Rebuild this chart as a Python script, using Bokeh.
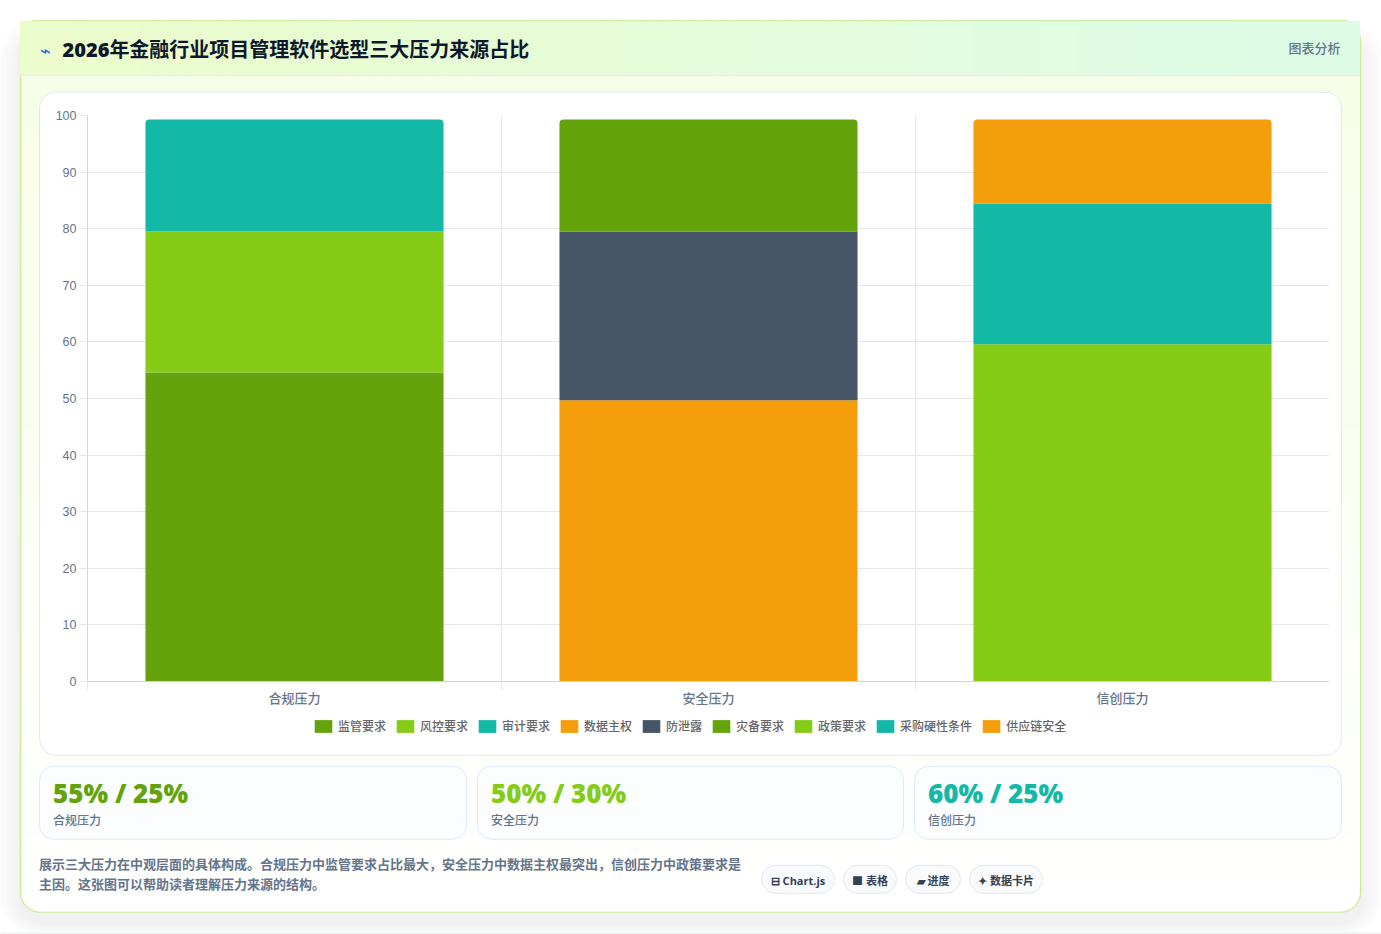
from bokeh.embed import file_html
from bokeh.resources import INLINE
from bokeh.plotting import figure
from bokeh.core.properties import value
from bokeh.models import Range1d, FixedTicker, Legend, LegendItem

# ---------- data ----------
title = "2026年金融行业项目管理软件选型三大压力来源占比"
categories = ["合规压力", "安全压力", "信创压力"]
series_names = ["监管要求", "风控要求", "审计要求", "数据主权", "防泄露", "灾备要求", "政策要求", "采购硬性条件", "供应链安全"]
series_category = [0, 0, 0, 1, 1, 1, 2, 2, 2]
series_values = [54.6, 24.9, 19.8, 49.7, 29.8, 19.8, 59.6, 24.8, 14.9]
series_colors = ["#65a30d", "#84cc16", "#14b8a6", "#f59e0b", "#475569", "#65a30d", "#84cc16", "#14b8a6", "#f59e0b"]
stat_values = ["55% / 25%", "50% / 30%", "60% / 25%"]
stat_colors = ["#65a30d", "#84cc16", "#14b8a6"]
desc_lines = ["展示三大压力在中观层面的具体构成。合规压力中监管要求占比最大，安全压力中数据主权最突出，信创压力中政策要求是",
              "主因。这张图可以帮助读者理解压力来源的结构。"]
pills = ["⊟ Chart.js", "■ 表格", "▰ 进度", "✦ 数据卡片"]

CJK = "Noto Sans CJK SC"
MED = "Noto Sans CJK SC Medium, Noto Sans CJK SC"
STACK = "Open Sans, Noto Sans CJK SC"
HEAVY = "Open Sans ExtraBold, Open Sans, Noto Sans CJK SC"
W, H = 1381, 934
GRID = "#e3e8ec"


def lerp(c1, c2, t):
    a = [int(c1[i:i + 2], 16) for i in (1, 3, 5)]
    b = [int(c2[i:i + 2], 16) for i in (1, 3, 5)]
    return "#%02x%02x%02x" % tuple(round(a[i] + (b[i] - a[i]) * t) for i in range(3))


bg = figure(width=W, height=H, output_backend="svg", toolbar_location=None,
            x_range=Range1d(0.5, W + 0.5), y_range=Range1d(H + 0.75, 0.75), min_border=0,
            x_axis_type=None, y_axis_type=None, outline_line_color=None,
            background_fill_color="#ffffff", border_fill_color="#ffffff")
bg.grid.visible = False
bg.styles = {"position": "absolute", "left": "0px", "top": "0px"}


def rrect(l, t, r, b, rad, fill, line=None, lw=1.0, fa=1.0):
    bg.quad(left=[l], right=[r], top=[t], bottom=[b], border_radius=int(rad),
            fill_color=fill, fill_alpha=fa, line_color=line, line_width=lw)


def txt(x, y, s, size, color, style="normal", font=STACK, align="left"):
    bg.text(x=[x], y=[y], text=[s], text_font=value(font), text_font_size=f"{size}px",
            text_color=color, text_font_style=style, text_baseline="middle", text_align=align)


# shadow
for i in range(14):
    s = 24 - i * 1.7
    rrect(20 - s, 21 + 20 - s, 1361 + s, 913 + 10 + s * 0.6, 22 + s, "#1e293b", fa=0.0045)
bg.quad(left=[0], right=[W + 1], top=[932.8], bottom=[935], fill_color="#eef0f3", line_color=None)

# card
rrect(20.5, 21.5, 1360.5, 912.5, 20, "#ffffff", "#c9ec93", 1.2)
# body gradient
n = 60
for i in range(n):
    t0 = 76 + (892 - 76) * i / n
    t1 = 76 + (892 - 76) * (i + 1) / n + 0.6
    bg.quad(left=[21.2], right=[1359.8], top=[t0], bottom=[t1],
            fill_color=lerp("#f7fee7", "#ffffff", (i + 0.5) / n), line_color=None)
# header gradient
m = 80
for i in range(m):
    l = 20 + 1340 * i / m
    r = 20 + 1340 * (i + 1) / m + 0.6
    bg.quad(left=[l], right=[min(r, 1360)], top=[21], bottom=[75],
            fill_color=lerp("#ecfccb", "#dcfce7", (i + 0.5) / m), line_color=None)
bg.segment(x0=[32], y0=[21], x1=[1347], y1=[21], line_color="#c9ec93", line_width=1)
bg.segment(x0=[20], y0=[75.5], x1=[1360], y1=[75.5], line_color="#e2e8f0", line_width=1)

txt(40, 50, "⌁", 18, "#2563eb")
txt(62.5, 49.8, title, 20, "#0f172a", "bold", HEAVY)
txt(1340.5, 48, "图表分析", 13, "#64748b", "bold", MED, "right")

# chart card
rrect(39.5, 92.5, 1341.5, 755.5, 16, "#ffffff", "#e2e8f0", 1)

# stat cards
stat_l = [39.5, 477.5, 914.5]
stat_r = [466.5, 903.5, 1341.5]
for i in range(3):
    rrect(stat_l[i], 766.5, stat_r[i], 839.5, 14, "#fbfdff", "#dbeafe", 1)
    txt(stat_l[i] + 13.5, 793, stat_values[i], 26, stat_colors[i], "bold", HEAVY)
    txt(stat_l[i] + 13.5, 819.5, categories[i], 12, "#64748b", "normal", MED)

# description
txt(39, 864, desc_lines[0], 13, "#64748b", "bold", CJK)
txt(39, 884, desc_lines[1], 13, "#64748b", "bold", CJK)

# pills
pill_l = [761.5, 843.5, 905.5, 969.5]
pill_r = [834.5, 896.5, 960.5, 1042.5]
for i in range(4):
    rrect(pill_l[i], 865.5, pill_r[i], 893.5, 14, "#f8fafc", "#e2e8f0", 1)
    txt((pill_l[i] + pill_r[i]) / 2, 880.5, pills[i], 11, "#334155", "bold", STACK, "center")

# legend, in the page-sized figure so that it lies clear of the plot frame
nan = float("nan")
items = []
for i, name in enumerate(series_names):
    r = bg.quad(left=[nan], right=[nan], top=[nan], bottom=[nan],
                fill_color=series_colors[i], line_color=None)
    items.append(LegendItem(label=name, renderers=[r]))
legend = Legend(items=items, orientation="horizontal", location=(312, 200),
                background_fill_alpha=0, border_line_color=None,
                glyph_width=22, glyph_height=16, label_standoff=4, spacing=8, padding=0, margin=0,
                label_text_font=MED, label_text_font_size="12px", label_text_color="#666666",
                label_height=12)
bg.add_layout(legend)

# ---------- chart ----------
p = figure(width=1301, height=662, output_backend="svg", toolbar_location=None,
           x_range=Range1d(0, 3), y_range=Range1d(0, 100),
           min_border_left=47, min_border_right=12, min_border_top=22, min_border_bottom=74,
           background_fill_color=None, border_fill_color=None, outline_line_color=None)
p.styles = {"position": "absolute", "left": "40px", "top": "93px"}

centers = [0.5, 1.5, 2.5]
base = [0.0, 0.0, 0.0]
for i, name in enumerate(series_names):
    c = series_category[i]
    radius = (4, 4, 0, 0) if i % 3 == 2 else 0
    p.vbar(x=[centers[c]], width=0.72, bottom=[base[c]], top=[base[c] + series_values[i]],
           fill_color=series_colors[i], line_color=None, border_radius=radius)
    base[c] += series_values[i]

p.yaxis.ticker = FixedTicker(ticks=list(range(0, 101, 10)))
p.yaxis.axis_line_color = "#cbd5e1"
p.yaxis.major_tick_line_color = GRID
p.yaxis.major_tick_out = 8
p.yaxis.major_tick_in = 0
p.yaxis.minor_tick_line_color = None
p.yaxis.major_label_text_font = "Liberation Sans"
p.yaxis.major_label_text_font_size = "12.5px"
p.yaxis.major_label_text_color = "#64748b"
p.yaxis.major_label_standoff = 3

p.xaxis.ticker = FixedTicker(ticks=centers, minor_ticks=[0, 1, 2])
p.xaxis.major_label_overrides = {centers[i]: categories[i] for i in range(3)}
p.xaxis.axis_line_color = "#cbd5e1"
p.xaxis.major_tick_line_color = None
p.xaxis.minor_tick_line_color = GRID
p.xaxis.minor_tick_out = 9
p.xaxis.minor_tick_in = 0
p.xaxis.major_label_text_font = MED
p.xaxis.major_label_text_font_size = "13px"
p.xaxis.major_label_text_color = "#64748b"
p.xaxis.major_label_standoff = -3

p.ygrid.ticker = FixedTicker(ticks=list(range(10, 101, 10)))
p.ygrid.grid_line_color = GRID
p.xgrid.ticker = FixedTicker(ticks=[1, 2])
p.xgrid.grid_line_color = GRID
p.ygrid.level = "underlay"
p.xgrid.level = "underlay"

open("out.html", "w").write(file_html((bg, p), INLINE))
